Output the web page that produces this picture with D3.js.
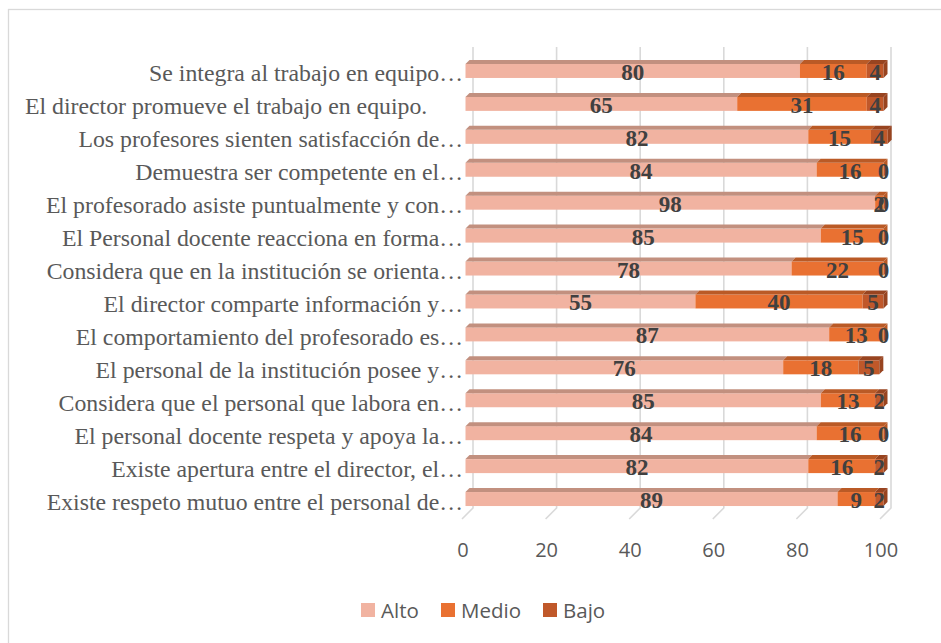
<!DOCTYPE html>
<html>
<head>
<meta charset="utf-8">
<script src="https://cdn.jsdelivr.net/npm/d3@7"></script>
<style>
  body { margin: 0; background: #fff; }
</style>
</head>
<body>
<svg id="chart"></svg>
<script>
// categories top to bottom
const categories = [
    "Se integra al trabajo en equipo…",
    "El director promueve el trabajo en equipo.\u00A0\u00A0\u00A0\u00A0\u00A0\u00A0",
    "Los profesores sienten satisfacción de…",
    "Demuestra ser competente en el…",
    "El profesorado asiste puntualmente y con…",
    "El Personal docente reacciona en forma…",
    "Considera que en la institución se orienta…",
    "El director comparte información y…",
    "El comportamiento del profesorado es…",
    "El personal de la institución posee y…",
    "Considera que el personal que labora en…",
    "El personal docente respeta y apoya la…",
    "Existe apertura entre el director, el…",
    "Existe respeto mutuo entre el personal de…"
];
const alto  = [80, 65, 82, 84, 98, 85, 78, 55, 87, 76, 85, 84, 82, 89];
const medio = [16, 31, 15, 16,  2, 15, 22, 40, 13, 18, 13, 16, 16,  9];
const bajo  = [ 4,  4,  4,  0,  0,  0,  0,  5,  0,  5,  2,  0,  2,  2];
const seriesNames = ["Alto", "Medio", "Bajo"];
const tickValues = [0, 20, 40, 60, 80, 100];

const colors = ["#F1B3A1", "#E97132", "#C0582A"];
const topColors = ["#C2907F", "#BA5A26", "#984420"];

const width = 941, height = 643;
const floorDepth = 11;   // 3d depth of the plot floor
const barShift = 7.5;    // front face of bars, measured from back wall
const barDepth = 4;

const svg = d3.select("#chart")
    .attr("width", width)
    .attr("height", height)
    .style("font-family", "'Liberation Serif', 'Times New Roman', serif");

// chart frame
svg.append("rect")
    .attr("x", 8.5).attr("y", 9.5)
    .attr("width", 1000).attr("height", 700)
    .attr("fill", "none")
    .attr("stroke", "#d9d9d9")
    .attr("stroke-width", 1.3);

// x on the back wall, y band on the back wall
const x = d3.scaleLinear().domain([0, 100]).range([473, 891]);
const y = d3.scaleBand().domain(categories).range([47, 508])
    .paddingInner(0.575).paddingOuter(0.2875);

// gridlines + floor
const grid = svg.append("g");
tickValues.forEach(t => {
    grid.append("path")
        .attr("d", `M${x(t)},47 L${x(t)},508 L${x(t) - floorDepth},${508 + floorDepth}`)
        .attr("fill", "none")
        .attr("stroke", "#d9d9d9")
        .attr("stroke-width", 1.6);
});

// axis tick labels (front plane)
svg.append("g").selectAll("text")
    .data(tickValues)
    .join("text")
    .attr("x", d => x(d) - floorDepth + 1)
    .attr("y", 557)
    .attr("text-anchor", "middle")
    .style("font-family", "'Open Sans', sans-serif")
    .style("font-size", "20px")
    .style("fill", "#595959")
    .text(d => d);

// category labels (front plane)
svg.append("g").selectAll("text")
    .data(categories)
    .join("text")
    .attr("x", x(0) - floorDepth + 1)
    .attr("y", d => y(d) + y.bandwidth() / 2 + floorDepth + 7)
    .attr("text-anchor", "end")
    .style("font-size", "23.8px")
    .style("fill", "#595959")
    .text(d => d);

// bars
const rows = categories.map((c, i) => {
    const vals = [alto[i], medio[i], bajo[i]];
    let cum = 0;
    const segs = vals.map((v, k) => {
        const s = { cat: c, k: k, v: v, x0: cum, x1: cum + v };
        cum += v;
        return s;
    });
    return { cat: c, segs: segs, total: cum };
});

const fx = v => x(v) - barShift;
const bars = svg.append("g");
rows.forEach(r => {
    const top = y(r.cat) + barShift;
    const bh = y.bandwidth();
    const g = bars.append("g");
    r.segs.filter(s => s.v > 0).forEach(s => {
        g.append("rect")
            .attr("x", fx(s.x0)).attr("y", top)
            .attr("width", fx(s.x1) - fx(s.x0)).attr("height", bh)
            .attr("fill", colors[s.k]);
        g.append("path")
            .attr("d", `M${fx(s.x0)},${top} L${fx(s.x1)},${top} L${fx(s.x1) + barDepth},${top - barDepth} L${fx(s.x0) + barDepth},${top - barDepth}Z`)
            .attr("fill", topColors[s.k]);
    });
    const last = r.segs.filter(s => s.v > 0).slice(-1)[0];
    g.append("path")
        .attr("d", `M${fx(r.total)},${top} L${fx(r.total) + barDepth},${top - barDepth} L${fx(r.total) + barDepth},${top + bh - barDepth} L${fx(r.total)},${top + bh}Z`)
        .attr("fill", topColors[last.k]);
});

// data labels
const labels = svg.append("g");
rows.forEach(r => {
    const top = y(r.cat) + barShift;
    labels.selectAll(null)
        .data(r.segs)
        .join("text")
        .attr("x", d => fx((d.x0 + d.x1) / 2))
        .attr("y", top + y.bandwidth() / 2 + 9)
        .attr("text-anchor", "middle")
        .style("font-size", "23px")
        .style("font-weight", "bold")
        .style("fill", "#404040")
        .text(d => d.v);
});

// legend
const legendX = [361, 441, 543];
const legend = svg.append("g");
seriesNames.forEach((n, i) => {
    legend.append("rect")
        .attr("x", legendX[i]).attr("y", 603)
        .attr("width", 14).attr("height", 14)
        .attr("fill", colors[i]);
    legend.append("text")
        .attr("x", legendX[i] + 20).attr("y", 618)
        .style("font-family", "'Open Sans', sans-serif")
        .style("font-size", "20.5px")
        .style("fill", "#595959")
        .text(n);
});
</script>
</body>
</html>
